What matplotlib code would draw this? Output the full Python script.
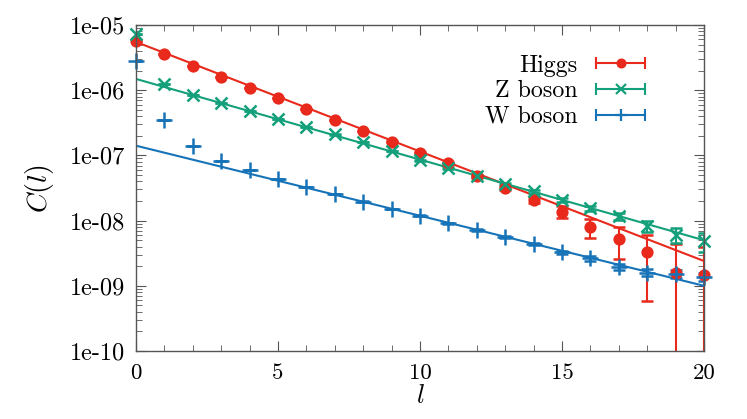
import numpy as np
import matplotlib
matplotlib.use('Agg')
import matplotlib.pyplot as plt
from matplotlib.lines import Line2D
from matplotlib.legend_handler import HandlerLine2D

plt.rcParams['font.family'] = 'cmr10'
plt.rcParams['mathtext.fontset'] = 'cm'
plt.rcParams['axes.unicode_minus'] = False

l = np.arange(21)

higgs = [5.7e-6, 3.6e-6, 2.35e-6, 1.6e-6, 1.08e-6, 7.6e-7, 5.15e-7, 3.5e-7, 2.37e-7, 1.62e-7,
         1.1e-7, 7.6e-8, 4.8e-8, 3.15e-8, 2.07e-8, 1.37e-8, 8.05e-9, 5.2e-9, 3.33e-9, 1.55e-9, 1.45e-9]
higgs_err = [2.5e-9, 2.5e-9, 2.5e-9, 2.5e-9, 2.5e-9, 2.5e-9, 2.5e-9, 2.5e-9, 2.5e-9, 2.5e-9,
             2.5e-9, 2.5e-9, 2.5e-9, 2.4e-9, 2.3e-9, 2.9e-9, 2.6e-9, 2.65e-9, 2.75e-9, 2.9e-9, 2.5e-9]

zboson = [7.3e-6, 1.25e-6, 8.5e-7, 6.4e-7, 4.75e-7, 3.6e-7, 2.73e-7, 2.1e-7, 1.6e-7, 1.17e-7,
          8.5e-8, 6.4e-8, 4.83e-8, 3.64e-8, 2.8e-8, 2.1e-8, 1.54e-8, 1.18e-8, 8.2e-9, 6.1e-9, 4.85e-9]
zboson_err = [1.5e-9] * 21

wboson = [2.84e-6, 3.5e-7, 1.41e-7, 8.3e-8, 5.97e-8, 4.39e-8, 3.31e-8, 2.56e-8, 1.95e-8, 1.51e-8,
          1.19e-8, 9.1e-9, 7.18e-9, 5.67e-9, 4.38e-9, 3.27e-9, 2.64e-9, 1.96e-9, 1.59e-9, 1.52e-9, 1.38e-9]
wboson_err = [2e-10] * 21

# fit lines (straight on log scale), end points
fit_l = [0, 20]
higgs_fit = [5.5e-6, 2.4e-9]
zboson_fit = [1.49e-6, 5.0e-9]
wboson_fit = [1.41e-7, 1.0e-9]

red = '#e8291c'
green = '#13a07a'
blue = '#1673b8'

fig = plt.figure(figsize=(7.47, 4.19), dpi=100)
ax = fig.add_axes([0.182, 0.1623, 0.7604, 0.778])

fs = 17
series = [(higgs, higgs_err, higgs_fit, red, 'o', 7),
          (zboson, zboson_err, zboson_fit, green, 'x', 9),
          (wboson, wboson_err, wboson_fit, blue, '+', 11)]
for y, e, fit, c, m, ms in series:
    cont = ax.errorbar(l, y, yerr=e, fmt=m, color=c, ms=ms, mew=1.8, elinewidth=1.5,
                       capsize=4, capthick=1.5)
    cont[0].set_clip_on(False)
    ax.plot(fit_l, fit, color=c, lw=1.5)

ax.set_yscale('log')
ax.set_xlim(0, 20)
ax.set_ylim(1e-10, 1e-5)
ax.set_xticks([0, 5, 10, 15, 20])
ax.set_xticklabels(['0', '5', '10', '15', '20'])
ax.set_xticks(np.arange(21), minor=True)
ax.set_yticks([1e-10, 1e-9, 1e-8, 1e-7, 1e-6, 1e-5])
ax.set_yticklabels(['1e-10', '1e-09', '1e-08', '1e-07', '1e-06', '1e-05'])
ax.tick_params(which='both', direction='in', top=True, right=True, color='#555555')
ax.tick_params(axis='y', labelsize=fs + 0.5, pad=8)
ax.tick_params(axis='x', labelsize=fs - 0.5, pad=9)
ax.tick_params(which='major', length=7)
ax.tick_params(which='minor', length=4)
for s in ax.spines.values():
    s.set_color('#555555')
    s.set_linewidth(1.0)

ax.set_xlabel('$l$', fontsize=fs + 2, labelpad=1)
ax.set_ylabel('$C(l)$', fontsize=fs + 3, labelpad=10)

handles = []
hmap = {}
for y, e, fit, c, m, ms in series:
    caps = Line2D([], [], color=c, lw=1.5, marker='|', ms=8, mew=1.5)
    mk = Line2D([], [], color=c, lw=0, marker=m, ms=ms * 0.8, mew=1.6)
    hmap[caps] = HandlerLine2D(numpoints=2, marker_pad=0)
    hmap[mk] = HandlerLine2D(numpoints=1)
    handles.append((caps, mk))

ax.legend(handles, ['Higgs', 'Z boson', 'W boson'], handler_map=hmap, markerfirst=False,
          frameon=False, fontsize=fs + 0.3, loc='center right', bbox_to_anchor=(0.925, 0.797),
          handlelength=2.0, handletextpad=0.8, labelspacing=0.15, borderpad=0.2)

fig.savefig('out.png', dpi=100)
